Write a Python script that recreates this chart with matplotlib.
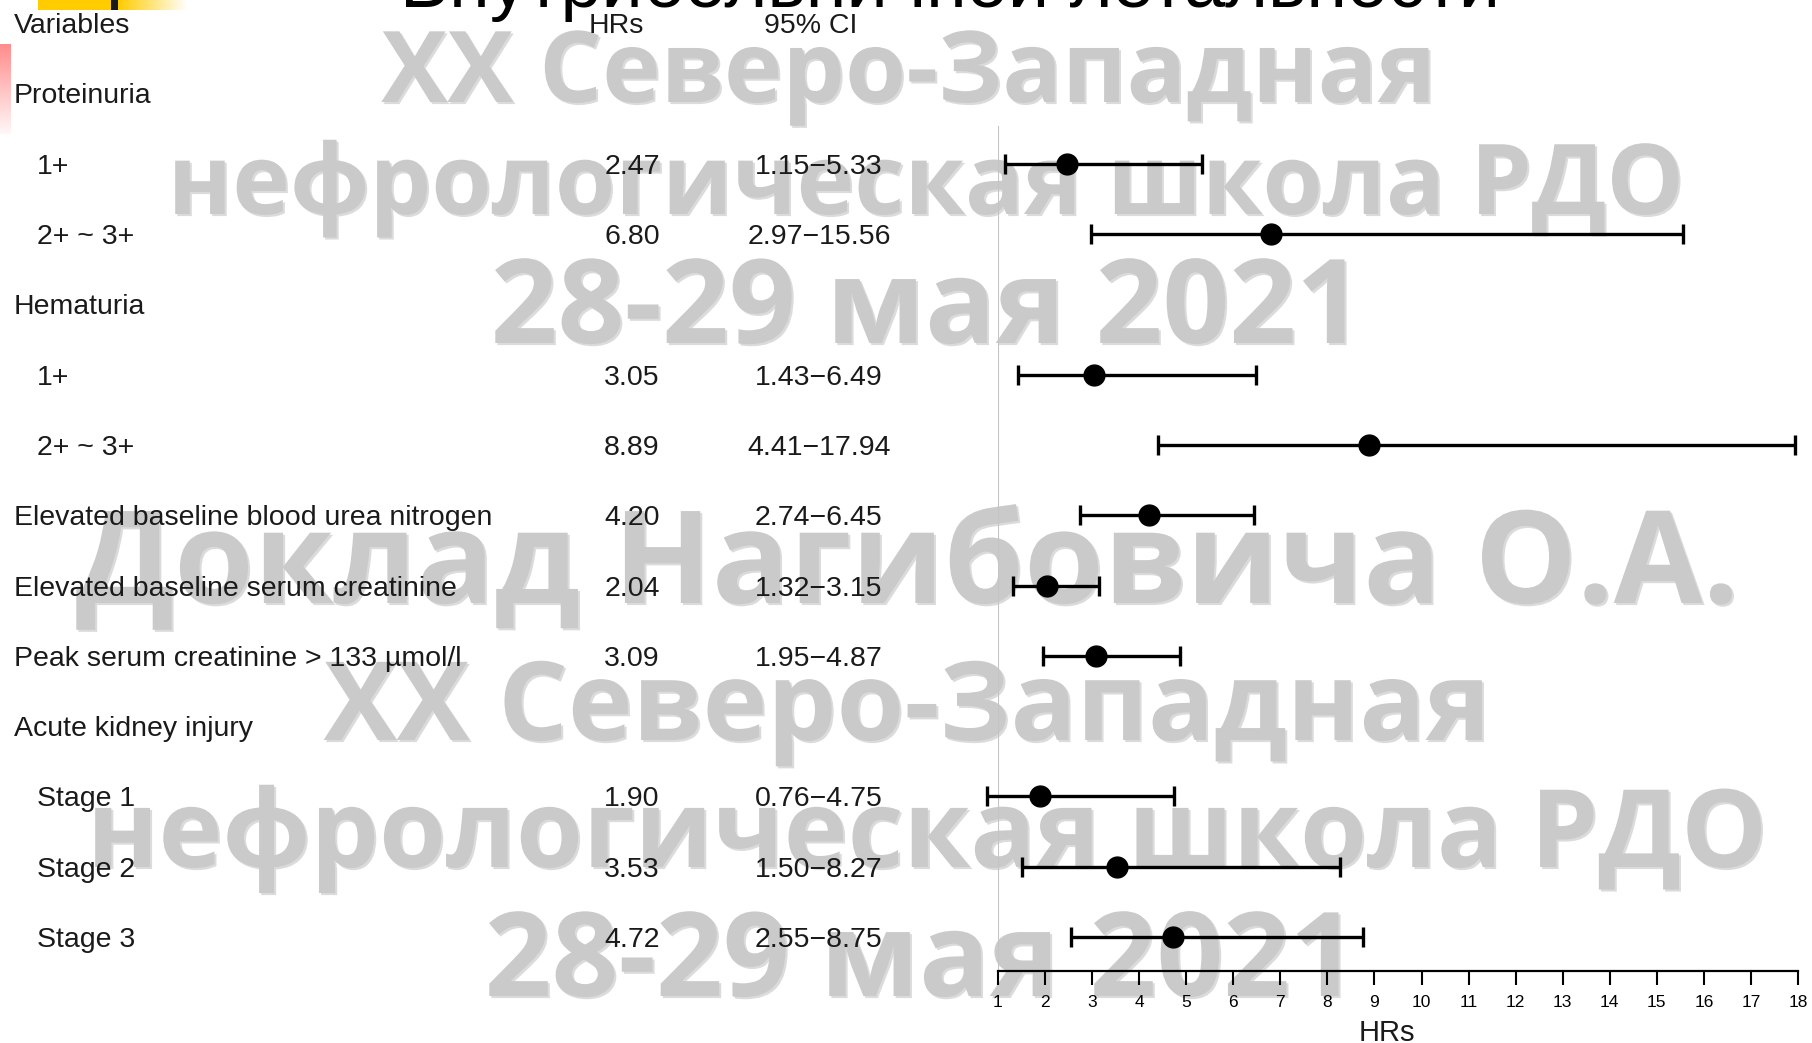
import numpy as np
import matplotlib
matplotlib.use("Agg")
import matplotlib.pyplot as plt
from matplotlib.transforms import blended_transform_factory
from matplotlib import font_manager
import matplotlib.patheffects as pe

# ---------------------------------------------------------------- data
variables = ["Proteinuria", "1+", "2+ ~ 3+",
             "Hematuria", "1+", "2+ ~ 3+",
             "Elevated baseline blood urea nitrogen",
             "Elevated baseline serum creatinine",
             "Peak serum creatinine > 133 µmol/l",
             "Acute kidney injury", "Stage 1", "Stage 2", "Stage 3"]
indented = [False, True, True, False, True, True, False, False, False,
            False, True, True, True]
hrs = [None, 2.47, 6.80, None, 3.05, 8.89, 4.20, 2.04, 3.09,
       None, 1.90, 3.53, 4.72]
ci_low = [None, 1.15, 2.97, None, 1.43, 4.41, 2.74, 1.32, 1.95,
          None, 0.76, 1.50, 2.55]
ci_high = [None, 5.33, 15.56, None, 6.49, 17.94, 6.45, 3.15, 4.87,
           None, 4.75, 8.27, 8.75]
x_ticks = list(range(1, 19))

header_vars = "Variables"
header_hr = "HRs"
header_ci = "95% CI"
x_label = "HRs"
title_text = "Внутрибольничной летальности"
watermark_lines = ["XX Северо-Западная", "нефрологическая школа РДО",
                   "28-29 мая 2021", "Доклад Нагибовича О.А.",
                   "XX Северо-Западная", "нефрологическая школа РДО",
                   "28-29 мая 2021"]

# ---------------------------------------------------------------- layout
W, H, DPI = 1812, 1043, 100
fig = plt.figure(figsize=(W / DPI, H / DPI), dpi=DPI)
fig.patch.set_facecolor("white")


def fx(px):
    return px / W


def fy(py):
    return 1 - py / H


def has_font(name):
    try:
        font_manager.findfont(font_manager.FontProperties(family=name),
                              fallback_to_default=False)
        return True
    except Exception:
        return False


MAIN_FONT = "Liberation Sans"
NARROW = "Liberation Sans Narrow" if has_font("Liberation Sans Narrow") else MAIN_FONT

# forest panel: HR=1 at x=998 px, HR=18 at x=1798 px, axis line at y=971 px
ax_left, ax_right, axis_y = 998, 1798, 971
row0, step = 23.1, 70.3
r_bottom = (axis_y - row0) / step
r_top = (0 - row0) / step

ax = fig.add_axes([fx(ax_left), fy(axis_y), (ax_right - ax_left) / W, axis_y / H])
ax.set_xlim(1, 18)
ax.set_ylim(r_bottom, r_top)
ax.patch.set_alpha(0)
for s in ("top", "right", "left"):
    ax.spines[s].set_visible(False)
ax.spines["bottom"].set_bounds(1, 18)
ax.spines["bottom"].set_linewidth(1.6)
ax.set_yticks([])
ax.set_xticks(x_ticks)
ax.set_xticklabels([str(t) for t in x_ticks])
ax.tick_params(axis="x", direction="out", length=10, width=1.5, pad=7,
               labelsize=15 if NARROW != MAIN_FONT else 12.5)
for lab in ax.get_xticklabels():
    lab.set_fontfamily(NARROW)

# reference line at HR = 1
ax.vlines(1, 1.46, r_bottom, color="#c4c4c4", lw=1.5, zorder=1)

rows = np.arange(1, len(variables) + 1)
for r, h, lo, hi in zip(rows, hrs, ci_low, ci_high):
    if h is None:
        continue
    cont = ax.errorbar([h], [r], xerr=[[h - lo], [hi - h]], fmt="o",
                       color="black", ms=15, elinewidth=2.4, capsize=7.5,
                       capthick=2.4, zorder=5)
    for child in cont.get_children():
        child.set_clip_on(False)

# ---------------------------------------------------------------- table text
trans = blended_transform_factory(fig.transFigure, ax.transData)
FS = 20.5
txt = dict(fontsize=FS, family=MAIN_FONT, color="#1a1a1a",
           va="center_baseline", transform=trans, zorder=6)
fig.text(fx(14), 0, header_vars, ha="left", **txt)
fig.text(fx(616), 0, header_hr, ha="center", **txt)
fig.text(fx(811), 0, header_ci, ha="center", **txt)
for r, name, ind, h, lo, hi in zip(rows, variables, indented, hrs, ci_low, ci_high):
    fig.text(fx(37 if ind else 14), r, name, ha="left", **txt)
    if h is not None:
        fig.text(fx(632), r, f"{h:.2f}", ha="center", **txt)
        fig.text(fx(819), r, f"{lo:.2f}\u2212{hi:.2f}", ha="center", **txt)

fig.text(fx(1387), fy(1041), x_label, ha="center", va="baseline",
         fontsize=21, family=NARROW, color="#1a1a1a")

# ---------------------------------------------------------------- title (cropped at top edge)
title = fig.text(fx(950), fy(7), title_text, ha="center", va="baseline",
                 fontsize=50, family=MAIN_FONT, color="black")

# ---------------------------------------------------------------- slide decorations
deco = fig.add_axes([fx(38), fy(10), (187 - 38) / W, 10 / H])
grad = np.ones((1, 149, 3))
yellow = np.array([1.0, 0.8, 0.0])
for i in range(149):
    px = 38 + i
    if px < 111:
        grad[0, i] = yellow
    elif px < 118:
        grad[0, i] = [0.1, 0.1, 0.1]
    else:
        t = (px - 118) / (187 - 118)
        grad[0, i] = yellow * (1 - t) + np.array([1, 1, 1]) * t
deco.imshow(grad, aspect="auto")
deco.set_axis_off()

side = fig.add_axes([0, fy(134), 11 / W, (134 - 44) / H])
col = np.ones((90, 1, 3))
for i in range(90):
    t = i / 89
    col[i, 0] = np.array([1.0, 0.55, 0.55]) * (1 - t) + np.array([1, 0.97, 0.97]) * t
side.imshow(col, aspect="auto")
side.set_axis_off()

# ---------------------------------------------------------------- watermark
wm_specs = [  # (centre x px, baseline y px, width px)
    (909, 102, 1055), (926, 214, 1517), (927, 343, 872), (907, 603, 1664),
    (907, 740, 1167), (927, 867, 1681), (921, 996, 872),
]
fig.canvas.draw()
renderer = fig.canvas.get_renderer()
for text, (cx, by, wpx) in zip(watermark_lines, wm_specs):
    t = fig.text(fx(cx), fy(by), text, ha="center", va="baseline",
                 fontsize=100, family="Open Sans", weight="bold",
                 color="#cacaca", zorder=-5)
    w = t.get_window_extent(renderer).width
    t.set_fontsize(100 * wpx / w)
    t.set_path_effects([pe.withSimplePatchShadow(offset=(1.5, -1.5),
                                                 shadow_rgbFace="#9a9a9a",
                                                 alpha=0.35)])

# fit the title width
w = title.get_window_extent(renderer).width
title.set_fontsize(50 * 1103 / w)

fig.savefig("out.png", dpi=DPI, facecolor="white")
